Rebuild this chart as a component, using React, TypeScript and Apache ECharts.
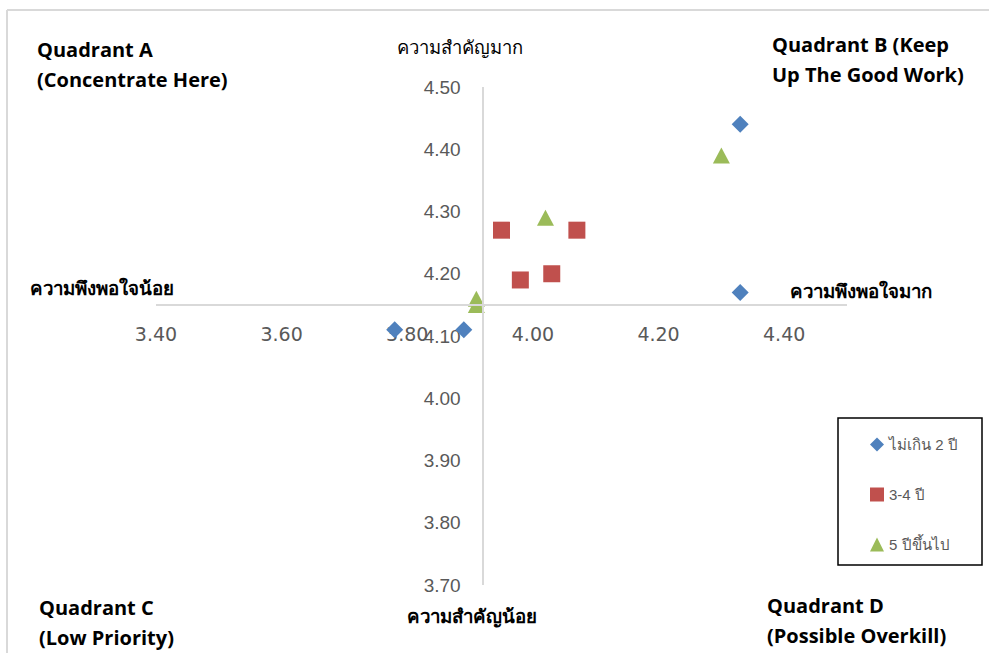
import React, { useEffect, useRef } from "react";
import * as echarts from "echarts";

// Satisfaction (x) vs importance (y) means for three groups of service tenure
const seriesNames = ["ไม่เกิน 2 ปี", "3-4 ปี", "5 ปีขึ้นไป"];
const upTo2Years: [number, number][] = [
  [4.33, 4.44],
  [4.33, 4.17],
  [3.78, 4.11],
  [3.89, 4.11],
];
const years3to4: [number, number][] = [
  [3.95, 4.27],
  [4.07, 4.27],
  [3.98, 4.19],
  [4.03, 4.2],
];
const years5plus: [number, number][] = [
  [4.3, 4.39],
  [4.02, 4.29],
  [3.91, 4.16],
  [3.91, 4.15],
];
const colors = ["#4f81bd", "#c0504d", "#9bbb59"];
const symbols = ["diamond", "rect", "triangle"];
const symbolSizes: (number | number[])[] = [17, 17, [17, 16]];

// Axis ranges and the crossing point of the quadrant lines
const xMin = 3.4;
const xMax = 4.5;
const xStep = 0.2;
const yMin = 3.7;
const yMax = 4.5;
const yStep = 0.1;
const xCross = 3.92;
const yCross = 4.15;

const quadrantTexts = [
  "Quadrant A\n(Concentrate Here)",
  "Quadrant B (Keep\nUp The Good Work)",
  "Quadrant C\n(Low Priority)",
  "Quadrant D\n(Possible Overkill)",
];
const axisCaptions = ["ความสำคัญมาก", "ความพึงพอใจน้อย", "ความพึงพอใจมาก", "ความสำคัญน้อย"];

const W = 989;
const H = 653;
const gridLeft = 156;
const gridRight = 142;
const gridTop = 87;
const gridBottom = 68;
const plotW = W - gridLeft - gridRight;
const plotH = H - gridTop - gridBottom;
const crossPxY = gridTop + ((yMax - yCross) / (yMax - yMin)) * plotH;
const crossPxX = gridLeft + ((xCross - xMin) / (xMax - xMin)) * plotW;

const labelFont = "'Liberation Sans', Arial, sans-serif";
const boldFont = "'Open Sans', 'Liberation Sans', sans-serif";

export default function App() {
  const ref = useRef<HTMLDivElement>(null);

  useEffect(() => {
    document.body.style.margin = "0";
    if (!ref.current) return;
    const chart = echarts.init(ref.current, undefined, { renderer: "svg" });

    const data = [upTo2Years, years3to4, years5plus];
    const series: any[] = data.map((d, i) => ({
      name: seriesNames[i],
      type: "scatter",
      data: d,
      symbol: symbols[i],
      symbolSize: symbolSizes[i],
      itemStyle: { color: colors[i], opacity: 1 },
      z: 3,
    }));
    // Quadrant divider lines
    series.push({
      type: "scatter",
      data: [],
      silent: true,
      markLine: {
        silent: true,
        symbol: "none",
        label: { show: false },
        lineStyle: { color: "#d9d9d9", width: 2, type: "solid" },
        data: [{ xAxis: xCross }, { yAxis: yCross }],
      },
      z: 1,
    });

    const quadPos = [
      { x: 37, y: 34 },
      { x: 772, y: 29 },
      { x: 39, y: 592 },
      { x: 767, y: 590 },
    ];
    const captionPos = [
      { x: 397, y: 46, bold: false },
      { x: 30, y: 287, bold: true },
      { x: 790, y: 290, bold: true },
      { x: 407, y: 615, bold: true },
    ];

    const graphics: any[] = [
      {
        type: "line",
        shape: { x1: 7, y1: 10, x2: W, y2: 10 },
        style: { stroke: "#d9d9d9", lineWidth: 2 },
      },
      {
        type: "line",
        shape: { x1: 7, y1: 10, x2: 7, y2: H },
        style: { stroke: "#d9d9d9", lineWidth: 2 },
      },
      {
        type: "rect",
        shape: { x: 838, y: 418, width: 144, height: 147 },
        style: { fill: "none", stroke: "#000", lineWidth: 1.5 },
      },
      ...quadrantTexts.map((t, i) => ({
        type: "text",
        x: quadPos[i].x,
        y: quadPos[i].y,
        style: {
          text: t,
          font: `bold 20px ${boldFont}`,
          fill: "#000",
          lineHeight: 30,
          textVerticalAlign: "top",
        },
      })),
      ...axisCaptions.map((t, i) => ({
        type: "text",
        x: captionPos[i].x,
        y: captionPos[i].y,
        style: {
          text: t,
          font: `${captionPos[i].bold ? "bold 18.7px" : "18.4px"} 'Noto Sans', sans-serif`,
          fill: "#000",
          textVerticalAlign: "middle",
        },
      })),
    ];

    chart.setOption({
      animation: false,
      backgroundColor: "#fff",
      grid: { left: gridLeft, right: gridRight, top: gridTop, bottom: gridBottom },
      xAxis: {
        type: "value",
        min: xMin,
        max: xMax,
        interval: xStep,
        offset: -(H - gridBottom - crossPxY),
        axisLine: { show: false },
        axisTick: { show: false },
        splitLine: { show: false },
        axisLabel: {
          margin: 20,
          showMaxLabel: false,
          color: "#595959",
          fontSize: 19,
          fontFamily: "'DejaVu Sans', sans-serif",
          formatter: (v: number) => v.toFixed(2),
        },
      },
      yAxis: {
        type: "value",
        min: yMin,
        max: yMax,
        interval: yStep,
        offset: -(crossPxX - gridLeft),
        axisLine: { show: false },
        axisTick: { show: false },
        splitLine: { show: false },
        axisLabel: {
          margin: 22,
          color: "#595959",
          fontSize: 19,
          fontFamily: labelFont,
          formatter: (v: number) => v.toFixed(2),
        },
      },
      legend: {
        orient: "vertical",
        left: 870,
        top: 437,
        padding: 0,
        itemGap: 35,
        itemWidth: 14,
        itemHeight: 14,
        data: seriesNames,
        textStyle: { color: "#595959", fontSize: 15, fontFamily: labelFont },
      },
      graphic: graphics,
      series,
    });

    return () => chart.dispose();
  }, []);

  return <div ref={ref} style={{ width: W, height: H }} />;
}
